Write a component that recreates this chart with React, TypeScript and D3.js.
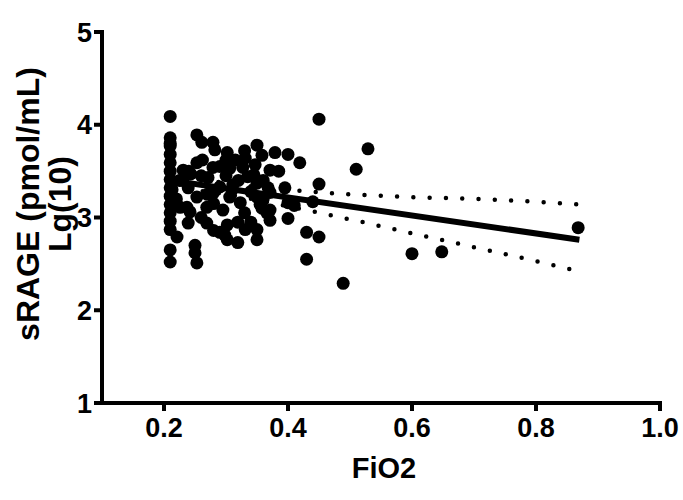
import React from "react";
import * as d3 from "d3";

// FiO2 vs sRAGE Lg(10) scatter values
const fio2 = [
  0.21, 0.21, 0.21, 0.21, 0.21, 0.21, 0.21, 0.21, 0.21, 0.21, 0.21, 0.21, 0.21, 0.21, 0.221, 0.21, 0.21,
  0.253, 0.261, 0.279, 0.282, 0.302, 0.35, 0.379, 0.40, 0.419, 0.331, 0.358,
  0.231, 0.253, 0.279, 0.306, 0.327, 0.347, 0.371, 0.36, 0.271, 0.29, 0.311, 0.335, 0.35, 0.368, 0.395,
  0.239, 0.253, 0.279, 0.306, 0.35, 0.371, 0.237, 0.269, 0.295, 0.323, 0.355, 0.226, 0.242, 0.366, 0.371,
  0.239, 0.269, 0.302, 0.319, 0.331, 0.29, 0.35, 0.302, 0.319, 0.35, 0.25, 0.25, 0.253, 0.298, 0.358,
  0.51, 0.529, 0.45, 0.45, 0.43, 0.43, 0.45, 0.44, 0.41, 0.40, 0.40, 0.371, 0.489, 0.60, 0.648, 0.868,
  0.225, 0.243, 0.262, 0.213, 0.26, 0.30, 0.32, 0.28, 0.33, 0.34, 0.22, 0.23, 0.24, 0.30, 0.33,
  0.31, 0.36, 0.26, 0.28, 0.34, 0.29, 0.315, 0.345, 0.27, 0.385,
];
const srage = [
  4.09, 3.86, 3.77, 3.68, 3.59, 3.50, 3.41, 3.32, 3.23, 3.14, 3.05, 2.96, 2.87, 3.80, 2.79, 2.65, 2.52,
  3.89, 3.81, 3.81, 3.73, 3.70, 3.78, 3.70, 3.68, 3.59, 3.64, 3.67,
  3.51, 3.59, 3.54, 3.53, 3.54, 3.57, 3.51, 3.40, 3.43, 3.33, 3.35, 3.44, 3.37, 3.32, 3.32,
  3.32, 3.22, 3.26, 3.22, 3.22, 3.27, 3.11, 3.11, 3.08, 3.16, 3.14, 3.11, 3.06, 3.05, 2.97,
  2.94, 2.94, 2.92, 2.95, 2.87, 2.84, 2.87, 2.76, 2.73, 2.76, 2.70, 2.62, 2.51, 2.81, 3.10,
  3.52, 3.74, 4.06, 3.36, 2.55, 2.84, 2.79, 3.17, 3.13, 3.16, 2.99, 3.08, 2.29, 2.61, 2.63, 2.89,
  3.40, 3.47, 3.62, 3.30, 3.45, 3.45, 3.40, 3.15, 3.05, 3.28, 3.20, 3.40, 3.50, 3.62, 3.72,
  3.30, 3.20, 3.00, 2.86, 2.95, 3.55, 3.62, 3.46, 3.25, 3.50,
];

// regression line and 95% confidence band
const fitX = [0.21, 0.87];
const fitY = [3.40, 2.76];
const bandX = [0.21, 0.3, 0.4, 0.5, 0.6, 0.7, 0.8, 0.87];
const bandUpper = [3.47, 3.37, 3.30, 3.25, 3.22, 3.20, 3.17, 3.14];
const bandLower = [3.32, 3.25, 3.12, 2.98, 2.83, 2.68, 2.53, 2.42];

const xTicks = [0.2, 0.4, 0.6, 0.8, 1.0];
const yTicks = [1, 2, 3, 4, 5];

export default function App() {
  const W = 683;
  const H = 500;
  const x = d3.scaleLinear().domain([0.1, 1.0]).range([102, 660]);
  const y = d3.scaleLinear().domain([1, 5]).range([403, 32]);
  const font = "'Liberation Sans', Arial, sans-serif";

  const line = d3
    .line<[number, number]>()
    .x((d) => x(d[0]))
    .y((d) => y(d[1]));
  const curve = d3
    .line<[number, number]>()
    .x((d) => x(d[0]))
    .y((d) => y(d[1]))
    .curve(d3.curveMonotoneX);

  const fitPts = fitX.map((v, i) => [v, fitY[i]] as [number, number]);
  const upPts = bandX.map((v, i) => [v, bandUpper[i]] as [number, number]);
  const loPts = bandX.map((v, i) => [v, bandLower[i]] as [number, number]);

  return (
    <svg
      width={W}
      height={H}
      style={{ position: "absolute", left: 0, top: 0, background: "#fff" }}
    >
      {fio2.map((v, i) => (
        <circle key={i} cx={x(v)} cy={y(srage[i])} r={6.5} fill="#000" />
      ))}
      <path d={line(fitPts) || ""} stroke="#000" strokeWidth={6} fill="none" />
      <path
        d={curve(upPts) || ""}
        stroke="#000"
        strokeWidth={4.5}
        strokeDasharray="0 16.3"
        strokeLinecap="round"
        fill="none"
      />
      <path
        d={curve(loPts) || ""}
        stroke="#000"
        strokeWidth={4.5}
        strokeDasharray="0 16.3"
        strokeLinecap="round"
        fill="none"
      />

      {/* axes */}
      <line x1={x(0.1)} x2={x(1.0) + 2} y1={y(1)} y2={y(1)} stroke="#000" strokeWidth={4} />
      <line x1={x(0.1)} x2={x(0.1)} y1={y(5) - 2} y2={y(1) + 2} stroke="#000" strokeWidth={4} />
      {xTicks.map((t) => (
        <g key={t}>
          <line x1={x(t)} x2={x(t)} y1={y(1)} y2={y(1) + 8} stroke="#000" strokeWidth={4} />
          <text
            x={x(t)}
            y={y(1) + 34}
            textAnchor="middle"
            fontFamily={font}
            fontWeight="bold"
            fontSize={27}
          >
            {t.toFixed(1)}
          </text>
        </g>
      ))}
      {yTicks.map((t) => (
        <g key={t}>
          <line x1={x(0.1) - 8} x2={x(0.1)} y1={y(t)} y2={y(t)} stroke="#000" strokeWidth={4} />
          <text
            x={x(0.1) - 10}
            y={y(t)}
            dy="0.36em"
            textAnchor="end"
            fontFamily={font}
            fontWeight="bold"
            fontSize={27}
          >
            {t}
          </text>
        </g>
      ))}
      <text
        x={384}
        y={478}
        textAnchor="middle"
        fontFamily={font}
        fontWeight="bold"
        fontSize={29}
      >
        FiO2
      </text>
      <g transform="translate(0,204) rotate(-90)">
        <text x={0} y={39} textAnchor="middle" fontFamily={font} fontWeight="bold" fontSize={32}>
          sRAGE (pmol/mL)
        </text>
        <text x={0} y={71} textAnchor="middle" fontFamily={font} fontWeight="bold" fontSize={32}>
          Lg(10)
        </text>
      </g>
    </svg>
  );
}
